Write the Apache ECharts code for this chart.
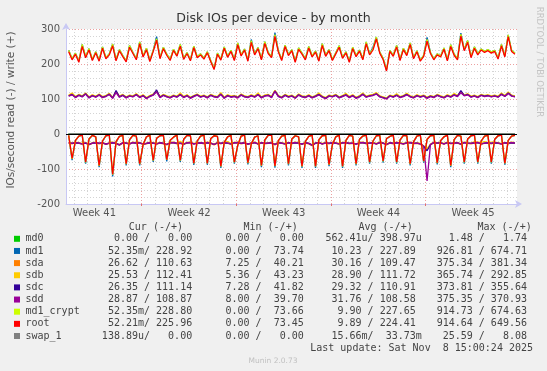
<!DOCTYPE html>
<html><head><meta charset="utf-8">
<script src="https://cdn.jsdelivr.net/npm/echarts@6/dist/echarts.min.js"></script>
<style>html,body{margin:0;padding:0;background:#f0f0f0}#c{width:547px;height:371px}</style>
</head><body><div id="c"></div>
<script>
// ---- time axis (days relative to Monday of week 42) ----
const t0 = -5.4, step = 0.25;
const weekLabels = ['Week 41', 'Week 42', 'Week 43', 'Week 44', 'Week 45'];
const weekCenters = [-3.5, 3.5, 10.5, 17.5, 24.5];
const weekStarts = [0, 7, 14, 21];

// ---- write (+) values ----
const rootWrite = [235,212,228,205,250,218,240,210,232,208, 245,215,226,252,209,238,221,206,248,230, 212,258,220,241,207,236,268,215,244,225, 210,239,222,251,213,230,209,247,218,226, 214,232,207,184,228,211,245,219,236,210, 255,223,240,208,262,226,244,212,259,230, 218,279,235,210,250,224,238,205,242,228, 212,246,220,234,208,253,222,238,210,229, 248,216,232,205,244,221,237,212,258,226, 240,272,231,213,180,236,222,249,210,241, 224,256,215,235,208,222,265,230,212,226, 220,242,209,250,225,212,280,238,262,218, 245,226,240,233,238,231,236,214,252,220, 278,236,228];
const cryptWrite = [239,215,231,208,256,221,244,213,235,211, 249,218,229,257,212,241,224,209,253,233, 215,263,223,245,210,239,272,218,248,228, 213,242,225,256,216,233,212,251,221,229, 217,235,210,187,231,214,249,222,239,213, 260,226,243,211,267,229,247,215,264,233, 221,284,238,213,254,227,241,208,246,231, 215,250,223,237,211,258,225,241,213,232, 252,219,235,208,248,224,240,215,263,229, 243,277,234,216,183,239,225,253,213,245, 227,260,218,238,211,225,270,233,215,229, 223,246,212,255,228,215,285,241,267,221, 249,229,243,236,241,234,239,217,256,223, 283,239,231];
const md1Write = [239,215,231,208,256,221,244,213,235,211, 249,218,229,257,212,241,224,209,253,233, 215,263,223,245,210,239,278,218,248,228, 213,242,225,256,216,233,212,251,221,229, 217,235,210,187,231,214,249,222,239,213, 260,226,243,211,270,229,247,215,264,233, 221,290,238,213,254,227,241,208,246,231, 215,250,223,237,211,258,225,241,213,232, 252,219,235,208,248,224,240,215,263,229, 248,277,234,216,183,239,225,253,213,245, 227,260,218,238,211,225,276,233,215,229, 223,246,212,255,228,215,288,241,267,221, 249,229,243,236,241,234,239,217,256,223, 283,239,231];
const sdaWrite = [110,114,106,112,108,116,105,111,107,113, 106,109,115,104,120,107,112,105,110,108, 114,106,111,103,109,113,122,106,112,108, 105,110,107,114,106,111,104,109,113,107, 110,105,112,108,106,115,104,111,107,109, 105,113,108,106,111,107,114,105,110,112, 106,124,109,105,112,107,110,104,113,108, 106,111,105,109,114,107,103,110,108,112, 105,109,113,106,111,104,108,115,107,110, 112,116,108,105,102,110,107,112,106,109, 114,108,105,111,107,110,104,109,106,112, 108,105,111,107,113,109,120,111,114,107, 110,106,112,109,111,108,110,107,115,109, 118,110,108];
const sdbWrite = [111,117,107,113,109,117,106,112,108,114, 107,110,116,105,122,108,113,106,111,109, 115,107,112,104,110,114,123,107,113,109, 106,111,108,117,107,112,105,110,114,108, 111,106,113,109,107,118,105,112,108,110, 106,114,109,107,112,108,117,106,111,113, 107,125,110,106,113,108,111,105,114,109, 107,112,106,110,117,108,104,111,109,113, 106,110,116,107,112,105,109,117,108,111, 113,118,109,106,103,111,108,115,107,110, 116,109,106,112,108,111,105,110,107,113, 109,106,112,108,116,110,121,112,115,108, 111,107,113,110,112,109,111,108,117,110, 120,111,109];
const sdcWrite = [109,113,105,111,107,115,104,110,106,112, 105,108,114,103,124,106,111,104,109,107, 113,105,110,102,108,112,126,105,111,107, 104,109,106,113,105,110,103,108,112,106, 109,104,111,107,105,114,103,110,106,108, 104,112,107,105,110,106,113,104,109,111, 105,123,108,104,111,106,109,103,112,107, 105,110,104,108,113,106,102,109,107,111, 104,108,112,105,110,103,107,114,106,109, 111,115,107,104,101,109,106,111,105,108, 113,107,104,110,106,109,103,108,105,111, 107,104,110,106,112,108,124,110,113,106, 109,105,111,108,110,107,109,106,114,108, 117,109,107];
const sddWrite = [108,112,104,110,106,114,103,109,105,111, 104,107,113,102,118,105,110,103,108,106, 112,104,109,101,107,111,120,104,110,106, 103,108,105,112,104,109,102,107,111,105, 108,103,110,106,104,113,102,109,105,107, 103,111,106,104,109,105,112,103,108,110, 104,122,107,103,110,105,108,102,111,106, 104,109,103,107,112,105,101,108,106,110, 103,107,111,104,109,102,106,113,105,108, 110,114,106,103,100,108,105,110,104,107, 112,106,103,109,105,108,102,107,104,110, 106,103,109,105,111,107,118,109,112,105, 108,104,110,107,109,106,108,105,113,107, 116,108,106];

// ---- read (-) values ----
const rootRead = [-4, -70,-18,-6,-3, -80,-14,-4,-8, -90,-20,-5,-3, -115,-22,-7,-4, -85,-16,-4,-6, -85,-30,-8,-3, -75,-12,-5,-4, -73,-18,-9,-3, -75,-15,-4,-5, -83,-20,-6,-3, -83,-13,-5,-7, -92,-24,-8,-4, -80,-32,-6,-3, -82,-28,-9,-5, -90,-17,-4,-3, -91,-19,-6,-4, -85,-14,-5,-8, -92,-21,-7,-3, -92,-16,-5,-4, -87,-30,-8,-3, -92,-18,-4,-6, -85,-15,-6,-3, -80,-20,-5,-4, -77,-13,-7,-3, -80,-17,-4,-5, -85,-22,-6,-3, -77,-15,-5,-4, -82,-19,-8,-3, -90,-16,-4,-6, -80,-14,-5,-3, -80,-20,-6,-4, -80,-15,-5,-3, -83,-18,-6,-4];
const cryptRead = [-4, -71,-18,-6,-3, -81,-14,-4,-8, -91,-20,-5,-3, -116,-22,-7,-4, -86,-16,-4,-6, -86,-30,-8,-3, -76,-12,-5,-4, -74,-18,-9,-3, -76,-15,-4,-5, -84,-20,-6,-3, -84,-13,-5,-7, -93,-24,-8,-4, -81,-32,-6,-3, -83,-28,-9,-5, -91,-17,-4,-3, -92,-19,-6,-4, -86,-14,-5,-8, -93,-21,-7,-3, -93,-16,-5,-4, -88,-30,-8,-3, -93,-18,-4,-6, -86,-15,-6,-3, -81,-20,-5,-4, -78,-13,-7,-3, -81,-17,-4,-5, -86,-22,-6,-3, -78,-15,-5,-4, -83,-19,-8,-3, -91,-16,-4,-6, -81,-14,-5,-3, -81,-20,-6,-4, -81,-15,-5,-3, -84,-18,-6,-4];
const md1Read = [-4, -75,-19,-6,-3, -85,-15,-4,-8, -95,-21,-5,-3, -121,-23,-7,-4, -90,-17,-4,-6, -90,-31,-8,-3, -80,-13,-5,-4, -78,-19,-9,-3, -80,-16,-4,-5, -88,-21,-6,-3, -88,-14,-5,-7, -97,-25,-8,-4, -85,-33,-6,-3, -87,-29,-9,-5, -95,-18,-4,-3, -96,-20,-6,-4, -90,-15,-5,-8, -97,-22,-7,-3, -97,-17,-5,-4, -92,-31,-8,-3, -97,-19,-4,-6, -90,-16,-6,-3, -85,-21,-5,-4, -82,-14,-7,-3, -85,-18,-4,-5, -90,-23,-6,-3, -82,-16,-5,-4, -87,-20,-8,-3, -95,-17,-4,-6, -85,-15,-5,-3, -85,-21,-6,-4, -85,-16,-5,-3, -88,-19,-6,-4];
const sdaRead = [-26,-28,-25,-27,-29,-26,-31,-27,-25,-28, -26,-30,-27,-25,-28,-32,-26,-27,-29,-25, -27,-26,-30,-28,-25,-27,-29,-26,-28,-31, -26,-25,-28,-27,-30,-26,-25,-29,-27,-26, -28,-25,-27,-31,-26,-28,-25,-27,-29,-26, -25,-28,-26,-30,-27,-25,-29,-26,-28,-27, -26,-31,-25,-27,-29,-26,-28,-25,-27,-30, -26,-28,-33,-27,-25,-29,-26,-28,-25,-27, -29,-26,-25,-28,-27,-30,-26,-25,-28,-27, -26,-29,-25,-27,-31,-26,-28,-25,-27,-29, -26,-25,-28,-27,-29,-36,-45,-31,-25,-27, -26,-29,-25,-28,-27,-26,-30,-25,-27,-28, -26,-25,-29,-27,-26,-28,-25,-27,-29,-26, -28,-25,-27];
const sdbRead = [-24,-26,-23,-25,-27,-24,-29,-25,-23,-26, -24,-28,-25,-23,-26,-30,-24,-25,-27,-23, -25,-24,-28,-26,-23,-25,-27,-24,-26,-29, -24,-23,-26,-21,-28,-24,-23,-27,-25,-24, -26,-23,-25,-29,-24,-26,-23,-22,-27,-24, -23,-26,-24,-28,-25,-23,-27,-24,-26,-25, -24,-29,-23,-25,-27,-24,-26,-23,-25,-28, -24,-26,-31,-25,-23,-27,-24,-26,-23,-25, -27,-24,-23,-26,-25,-28,-24,-23,-26,-25, -24,-27,-23,-25,-29,-24,-26,-23,-25,-27, -24,-23,-26,-25,-27,-34,-42,-29,-23,-25, -24,-27,-23,-26,-25,-24,-28,-23,-25,-26, -22,-23,-24,-22,-24,-23,-23,-25,-27,-24, -26,-23,-25];
const sdcRead = [-25,-27,-25,-26,-28,-26,-30,-26,-25,-27, -25,-29,-26,-25,-27,-31,-25,-26,-28,-25, -26,-25,-29,-27,-25,-26,-28,-25,-27,-30, -25,-25,-27,-26,-29,-25,-25,-28,-26,-25, -27,-25,-26,-30,-25,-27,-25,-26,-28,-25, -25,-27,-25,-29,-26,-25,-28,-25,-27,-26, -25,-30,-25,-26,-28,-25,-27,-25,-26,-29, -25,-27,-32,-26,-25,-28,-25,-27,-25,-26, -28,-25,-25,-27,-26,-29,-25,-25,-27,-26, -25,-28,-25,-26,-30,-25,-27,-25,-26,-28, -25,-25,-27,-26,-28,-35,-48,-30,-25,-26, -25,-28,-25,-27,-26,-25,-29,-25,-26,-27, -25,-25,-28,-26,-25,-27,-25,-26,-28,-25, -27,-25,-26];
const sddRead = [-25,-27,-24,-26,-28,-25,-30,-26,-24,-27, -25,-29,-26,-24,-27,-31,-25,-26,-28,-24, -26,-25,-29,-27,-24,-26,-28,-25,-27,-30, -25,-24,-27,-26,-29,-25,-24,-28,-26,-25, -27,-24,-26,-30,-25,-27,-24,-26,-28,-25, -24,-27,-25,-29,-26,-24,-28,-25,-27,-26, -25,-30,-24,-26,-28,-25,-27,-24,-26,-29, -25,-27,-32,-26,-24,-28,-25,-27,-24,-26, -28,-25,-24,-27,-26,-29,-25,-24,-27,-26, -25,-28,-24,-26,-30,-25,-27,-24,-26,-28, -25,-24,-27,-26,-28,-35,-134,-30,-24,-26, -25,-28,-24,-27,-26,-25,-29,-24,-26,-27, -25,-24,-28,-26,-25,-27,-24,-26,-28,-25, -27,-24,-26];
const zeroLine = [0,0,0,0,0,0,0,0,0,0, 0,0,0,0,0,0,0,0,0,0, 0,0,0,0,0,0,0,0,0,0, 0,0,0,0,0,0,0,0,0,0, 0,0,0,0,0,0,0,0,0,0, 0,0,0,0,0,0,0,0,0,0, 0,0,0,0,0,0,0,0,0,0, 0,0,0,0,0,0,0,0,0,0, 0,0,0,0,0,0,0,0,0,0, 0,0,0,0,0,0,0,0,0,0, 0,0,0,0,0,0,0,0,0,0, 0,0,0,0,0,0,0,0,0,0, 0,0,0,0,0,0,0,0,0,0, 0,0,0];

// ---- legend table ----
const names = ['md0', 'md1', 'sda', 'sdb', 'sdc', 'sdd', 'md1_crypt', 'root', 'swap_1'];
const colors = ['#00CC00', '#0066B3', '#FF8000', '#FFCC00', '#330099', '#990099', '#CCFF00', '#FF0000', '#808080'];
const curCol = ['  0.00 /   0.00 ', ' 52.35m/ 228.92 ', ' 26.62 / 110.63 ', ' 25.53 / 112.41 ', ' 26.35 / 111.14 ', ' 28.87 / 108.87 ', ' 52.35m/ 228.80 ', ' 52.21m/ 225.96 ', '138.89u/   0.00 '];
const minCol = ['  0.00 /   0.00 ', '  0.00 /  73.74 ', '  7.25 /  40.21 ', '  5.36 /  43.23 ', '  7.28 /  41.82 ', '  8.00 /  39.70 ', '  0.00 /  73.66 ', '  0.00 /  73.45 ', '  0.00 /   0.00 '];
const avgCol = ['562.41u/ 398.97u', ' 10.23 / 227.89 ', ' 30.16 / 109.47 ', ' 28.90 / 111.72 ', ' 29.32 / 110.91 ', ' 31.76 / 108.58 ', '  9.90 / 227.65 ', '  9.89 / 224.41 ', ' 15.66m/  33.73m'];
const maxCol = ['  1.48 /   1.74 ', '926.81 / 674.71 ', '375.34 / 381.34 ', '365.74 / 292.85 ', '373.81 / 355.64 ', '375.35 / 370.93 ', '914.73 / 674.63 ', '914.64 / 649.56 ', ' 25.59 /   8.08 '];
const headers = ['Cur (-/+)', 'Min (-/+)', 'Avg (-/+)', 'Max (-/+)'];
const lastUpdate = 'Last update: Sat Nov  8 15:00:24 2025';

// ---- build ----
const times = rootWrite.map((_, i) => t0 + i * step);
const pairs = arr => arr.map((v, i) => [times[i], v]);
const seriesDefs = [
  ['md0', zeroLine, zeroLine], ['md1', md1Read, md1Write], ['sda', sdaRead, sdaWrite],
  ['sdb', sdbRead, sdbWrite], ['sdc', sdcRead, sdcWrite], ['sdd', sddRead, sddWrite],
  ['md1_crypt', cryptRead, cryptWrite], ['root', rootRead, rootWrite], ['swap_1', zeroLine, zeroLine]
];
const series = [];
seriesDefs.forEach(([nm, rd, wr], k) => {
  [rd, wr].forEach((arr, j) => {
    series.push({
      type: 'line', name: nm + (j ? ' write' : ' read'), data: pairs(arr),
      showSymbol: false, symbol: 'none', silent: true, animation: false, z: 2,
      lineStyle: { width: 1.3, color: colors[k] }, itemStyle: { color: colors[k] }
    });
  });
});
// vertical grid (days, weeks)
const xMin = -5.6, xMax = 27.75;
const vLines = [];
for (let d = Math.ceil(xMin); d <= Math.floor(xMax); d++) {
  const wk = weekStarts.indexOf(d) >= 0;
  vLines.push({ xAxis: d, lineStyle: { color: wk ? '#eca0a0' : '#d4d4d4', type: [1, 2], width: 1 } });
}
series[0].markLine = { silent: true, symbol: 'none', z: 1, animation: false, label: { show: false }, data: vLines };
series[series.length - 1].markLine = { silent: true, symbol: 'none', z: 5, animation: false, label: { show: false },
  data: [{ yAxis: 0, lineStyle: { color: '#000', type: 'solid', width: 1 } }] };

const mono = '10px "DejaVu Sans Mono"';
const txtColor = '#444';
const graphic = [];
const rowY = k => 238.8 + 12.15 * k;
const cellRight = [198.2, 309.8, 421.8, 533];
const headLeft = [128.8, 243.5, 358.5, 477.5];
headers.forEach((h, c) => graphic.push({ type: 'text', silent: true, style: { text: h, x: headLeft[c], y: 227.8, font: mono, fill: txtColor, textAlign: 'left', textVerticalAlign: 'middle', align: 'left', verticalAlign: 'middle' } }));
names.forEach((nm, k) => {
  const y = rowY(k);
  graphic.push({ type: 'rect', silent: true, shape: { x: 14, y: y - 3, width: 6, height: 6 }, style: { fill: colors[k] } });
  graphic.push({ type: 'text', silent: true, style: { text: nm, x: 25.5, y, font: mono, fill: txtColor, textAlign: 'left', textVerticalAlign: 'middle', align: 'left', verticalAlign: 'middle' } });
  [curCol, minCol, avgCol, maxCol].forEach((col, c) => {
    graphic.push({ type: 'text', silent: true, style: { text: col[k], x: cellRight[c], y, font: mono, fill: txtColor, textAlign: 'right', textVerticalAlign: 'middle', align: 'right', verticalAlign: 'middle' } });
  });
});
graphic.push({ type: 'text', silent: true, style: { text: lastUpdate, x: 533, y: 348.2, font: mono, fill: txtColor, textAlign: 'right', textVerticalAlign: 'middle', align: 'right', verticalAlign: 'middle' } });
graphic.push({ type: 'text', silent: true, style: { text: 'Munin 2.0.73', x: 273, y: 360.8, font: '7.5px "DejaVu Sans"', fill: '#c0c0c0', textAlign: 'center', textVerticalAlign: 'middle', align: 'center', verticalAlign: 'middle' } });
graphic.push({ type: 'text', silent: true, style: { text: 'Disk IOs per device - by month', x: 273.5, y: 19, font: '12.6px "DejaVu Sans"', fill: '#333', textAlign: 'center', textVerticalAlign: 'middle', align: 'center', verticalAlign: 'middle' } });
graphic.push({ type: 'text', silent: true, x: 11, y: 110, rotation: Math.PI / 2, style: { text: 'IOs/second read (-) / write (+)', x: 0, y: 0, font: '10.5px "DejaVu Sans"', fill: '#555', textAlign: 'center', textVerticalAlign: 'middle', align: 'center', verticalAlign: 'middle' } });
graphic.push({ type: 'text', silent: true, x: 539, y: 62, rotation: -Math.PI / 2, style: { text: 'RRDTOOL / TOBI OETIKER', x: 0, y: 0, font: '8.6px "DejaVu Sans"', fill: '#c4c4c4', textAlign: 'center', textVerticalAlign: 'middle', align: 'center', verticalAlign: 'middle' } });

const chart = echarts.init(document.getElementById('c'), null, { renderer: 'canvas' });
chart.setOption({
  backgroundColor: '#f0f0f0',
  animation: false,
  grid: { left: 66, top: 29, width: 451, height: 175, show: true, backgroundColor: '#ffffff', borderWidth: 0 },
  xAxis: {
    type: 'value', min: xMin, max: xMax,
    axisLine: { show: true, onZero: false, symbol: ['none', 'arrow'], symbolSize: [6, 7], symbolOffset: [0, 5], lineStyle: { color: '#c8c8f4', width: 1 } },
    axisTick: { show: true, customValues: weekStarts, length: 2, lineStyle: { color: '#e07070' } },
    axisLabel: { customValues: weekCenters, formatter: v => weekLabels[weekCenters.indexOf(v)] || '', color: '#555', fontSize: 10, fontFamily: 'DejaVu Sans', margin: 4 },
    splitLine: { show: false }
  },
  yAxis: {
    type: 'value', min: -200, max: 300, interval: 100,
    axisLine: { show: true, onZero: false, symbol: ['none', 'arrow'], symbolSize: [6, 7], symbolOffset: [0, 6], lineStyle: { color: '#c8c8f4', width: 1 } },
    axisTick: { show: false },
    axisLabel: { color: '#555', fontSize: 10, fontFamily: 'DejaVu Sans', margin: 6 },
    splitLine: { show: true, lineStyle: { color: '#eca0a0', type: [1, 2] } },
    minorTick: { show: false, splitNumber: 5 },
    minorSplitLine: { show: true, lineStyle: { color: '#d4d4d4', type: [1, 2] } }
  },
  series,
  graphic
});
</script></body></html>
